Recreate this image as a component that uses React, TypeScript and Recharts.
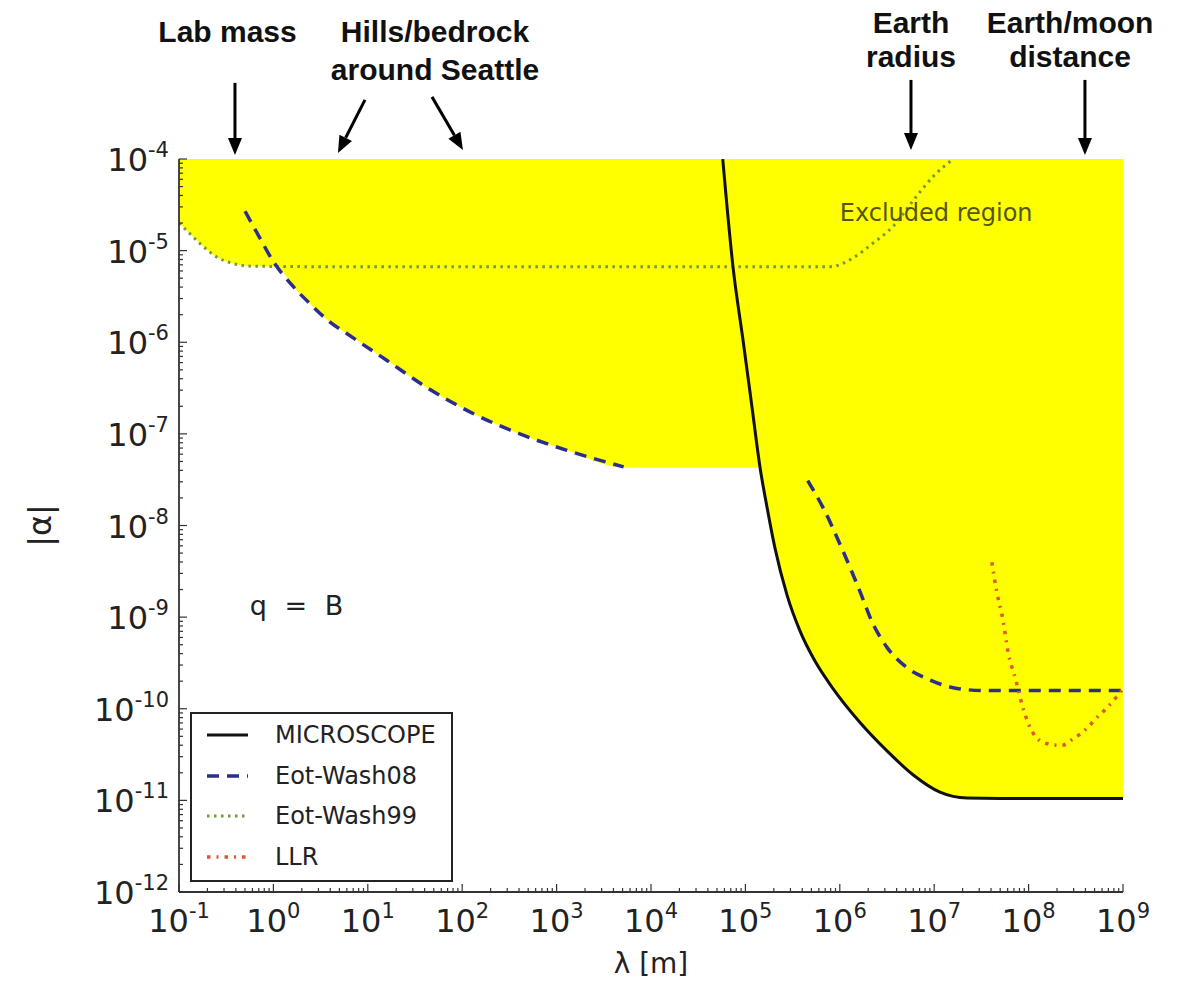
import React from 'react';
import {
  ComposedChart,
  Line,
  Area,
  XAxis,
  YAxis,
  Legend,
  ReferenceLine,
  ReferenceDot,
} from 'recharts';

// every value is a log10: lam = log10(λ / m), alpha = log10 |α|
const microscopeLam = [4.76, 4.869, 4.975, 5.07, 5.155, 5.229, 5.314, 5.441, 5.578, 5.737, 5.928, 6.214, 6.5, 6.775, 7.061, 7.347, 7.7, 9.0];
const microscopeAlpha = [-4.0, -5.18, -5.978, -6.71, -7.366, -7.8, -8.25, -8.76, -9.15, -9.48, -9.78, -10.15, -10.46, -10.72, -10.91, -10.975, -10.98, -10.98];

const eotWash08LabLam = [-0.3, -0.15, 0.0, 0.2, 0.388, 0.6, 0.777, 1.2, 1.62, 2.12, 2.61, 3.11, 3.71];
const eotWash08LabAlpha = [-4.57, -4.85, -5.12, -5.38, -5.58, -5.78, -5.905, -6.197, -6.49, -6.78, -7.0, -7.18, -7.36];

const eotWash08GeoLam = [5.66, 5.82, 6.03, 6.21, 6.35, 6.5, 6.71, 6.92, 7.2, 7.5, 9.0];
const eotWash08GeoAlpha = [-7.51, -7.8, -8.27, -8.71, -9.07, -9.33, -9.55, -9.67, -9.77, -9.8, -9.8];

const eotWash99Lam = [-1.0, -0.9, -0.78, -0.6, -0.43, -0.22, 0.5, 5.9, 6.14, 6.35, 6.56, 6.78, 6.99, 7.2];
const eotWash99Alpha = [-4.7, -4.8, -4.92, -5.07, -5.14, -5.17, -5.175, -5.175, -5.08, -4.92, -4.74, -4.45, -4.19, -4.0];

const llrLam = [7.61, 7.66, 7.73, 7.78, 7.86, 7.94, 8.05, 8.19, 8.35, 8.47, 8.62, 8.72, 8.83, 8.94, 9.0];
const llrAlpha = [-8.4, -8.71, -9.04, -9.37, -9.67, -9.99, -10.27, -10.38, -10.4, -10.33, -10.21, -10.1, -9.99, -9.86, -9.78];

// lower edge of the yellow excluded region
const excludedLam = [-1.0, -0.9, -0.78, -0.6, -0.43, -0.22, 0.042, 0.2, 0.388, 0.6, 0.777, 1.2, 1.62, 2.12, 2.61, 3.11, 3.71, 5.155, 5.229, 5.314, 5.441, 5.578, 5.737, 5.928, 6.214, 6.5, 6.775, 7.061, 7.347, 7.7, 9.0];
const excludedAlpha = [-4.7, -4.8, -4.92, -5.07, -5.14, -5.17, -5.175, -5.38, -5.58, -5.78, -5.905, -6.197, -6.49, -6.78, -7.0, -7.18, -7.37, -7.37, -7.8, -8.25, -8.76, -9.15, -9.48, -9.78, -10.15, -10.46, -10.72, -10.91, -10.975, -10.98, -10.98];

const decadesX = [-1, 0, 1, 2, 3, 4, 5, 6, 7, 8, 9];
const decadesY = [-12, -11, -10, -9, -8, -7, -6, -5, -4];
const minorSteps = [2, 3, 4, 5, 6, 7, 8, 9];

const annotationLabels = [
  { lines: ['Lab mass'], lam: -0.486, alpha: -2.721, gap: 38 },
  { lines: ['Hills/bedrock', 'around Seattle'], lam: 1.712, alpha: -2.721, gap: 38 },
  { lines: ['Earth', 'radius'], lam: 6.754, alpha: -2.623, gap: 34 },
  { lines: ['Earth/moon', 'distance'], lam: 8.439, alpha: -2.623, gap: 34 },
];

const annotationArrows = [
  { from: [-0.407, -3.169], to: [-0.407, -3.956] },
  { from: [0.97, -3.355], to: [0.684, -3.934] },
  { from: [1.68, -3.322], to: [2.008, -3.902] },
  { from: [6.754, -3.137], to: [6.754, -3.902] },
  { from: [8.597, -3.137], to: [8.597, -3.956] },
];

const toPoints = (lam: number[], alpha: number[]) => lam.map((x, i) => ({ x, y: alpha[i] }));

const withMinors = (decades: number[]) =>
  decades.flatMap((d, i) =>
    i < decades.length - 1 ? [d, ...minorSteps.map(k => d + Math.log10(k))] : [d]
  );

const xTicks = withMinors(decadesX);
const yTicks = withMinors(decadesY);

const series = [
  { name: 'MICROSCOPE', color: '#111111', width: 3, dash: undefined as string | undefined },
  { name: 'Eot-Wash08', color: '#2d2d8c', width: 3.5, dash: '12 8' },
  { name: 'Eot-Wash99', color: '#74983a', width: 3, dash: '2.5 4.5' },
  { name: 'LLR', color: '#dc5a2c', width: 3.5, dash: '3.5 6 2 6' },
];

const AXIS = '#333333';
const FONT = "'DejaVu Sans', sans-serif";
const isMajor = (v: number) => Math.abs(v - Math.round(v)) < 1e-6;

function BottomTick({ x, y, payload }: any) {
  const major = isMajor(payload.value);
  return (
    <g>
      <line x1={x} x2={x} y1={y} y2={y - (major ? 8 : 4)} stroke={AXIS} strokeWidth={1.2} />
      {major && (
        <text x={x} y={y + 40} textAnchor="middle" fontSize={32} fill="#222" fontFamily={FONT}>
          10<tspan fontSize={21} dy={-14}>{Math.round(payload.value)}</tspan>
        </text>
      )}
    </g>
  );
}

function LeftTick({ x, y, payload }: any) {
  const major = isMajor(payload.value);
  return (
    <g>
      <line x1={x} x2={x + (major ? 8 : 4)} y1={y} y2={y} stroke={AXIS} strokeWidth={1.2} />
      {major && (
        <text x={x - 10} y={y + 12} textAnchor="end" fontSize={32} fill="#222" fontFamily={FONT}>
          10<tspan fontSize={21} dy={-14}>{Math.round(payload.value)}</tspan>
        </text>
      )}
    </g>
  );
}

function TopTick({ x, y, payload }: any) {
  const major = isMajor(payload.value);
  return <line x1={x} x2={x} y1={y} y2={y + (major ? 8 : 4)} stroke={AXIS} strokeWidth={1.2} />;
}

function RightTick({ x, y, payload }: any) {
  const major = isMajor(payload.value);
  return <line x1={x} x2={x - (major ? 8 : 4)} y1={y} y2={y} stroke={AXIS} strokeWidth={1.2} />;
}

function Arrow({ x1, y1, x2, y2 }: any) {
  const dx = x2 - x1;
  const dy = y2 - y1;
  const len = Math.sqrt(dx * dx + dy * dy);
  const ux = dx / len;
  const uy = dy / len;
  const head = 17;
  const half = 7;
  const bx = x2 - ux * head;
  const by = y2 - uy * head;
  return (
    <g>
      <line x1={x1} y1={y1} x2={bx} y2={by} stroke="#000" strokeWidth={3} />
      <polygon
        points={`${x2},${y2} ${bx - uy * half},${by + ux * half} ${bx + uy * half},${by - ux * half}`}
        fill="#000"
      />
    </g>
  );
}

function NoteText({ cx, cy, lines, gap }: any) {
  return (
    <text
      x={cx}
      y={cy}
      textAnchor="middle"
      fontFamily="'Liberation Sans', Arial, sans-serif"
      fontWeight="bold"
      fontSize={30}
      fill="#111"
    >
      {lines.map((l: string, i: number) => (
        <tspan key={l} x={cx} dy={i === 0 ? 0 : gap}>
          {l}
        </tspan>
      ))}
    </text>
  );
}

function LegendBox() {
  return (
    <div
      style={{
        width: 263,
        height: 170,
        boxSizing: 'border-box',
        border: '2px solid #222',
        background: '#fff',
        paddingTop: 1,
        fontFamily: FONT,
      }}
    >
      {series.map(s => (
        <div key={s.name} style={{ display: 'flex', alignItems: 'center', height: 40.5 }}>
          <svg width={83} height={12}>
            <line x1={15} x2={56} y1={6} y2={6} stroke={s.color} strokeWidth={s.width} strokeDasharray={s.dash} />
          </svg>
          <span style={{ fontSize: 24, color: '#222', lineHeight: 1 }}>{s.name}</span>
        </div>
      ))}
    </div>
  );
}

export default function App() {
  const frame = { stroke: AXIS, strokeWidth: 1.8 };
  const [mic, w08, w99, llr] = series;

  return (
    <div style={{ position: 'absolute', left: 0, top: 0, width: 1183, height: 991, background: '#fff', fontFamily: FONT }}>
      <ComposedChart width={1183} height={991} margin={{ top: 159, right: 60, bottom: 39, left: 59 }}>
        <XAxis
          dataKey="x"
          type="number"
          domain={[-1, 9]}
          ticks={xTicks}
          interval={0}
          allowDataOverflow
          height={60}
          tickSize={0}
          tickMargin={0}
          tickLine={false}
          axisLine={frame}
          tick={<BottomTick />}
          label={{ value: 'λ [m]', position: 'bottom', offset: 1, fontSize: 28, fill: '#222' }}
        />
        <XAxis
          xAxisId="top"
          orientation="top"
          type="number"
          domain={[-1, 9]}
          ticks={xTicks}
          interval={0}
          allowDataOverflow
          height={0}
          tickSize={0}
          tickMargin={0}
          tickLine={false}
          axisLine={frame}
          tick={<TopTick />}
        />
        <YAxis
          type="number"
          domain={[-12, -4]}
          ticks={yTicks}
          interval={0}
          allowDataOverflow
          width={120}
          tickSize={0}
          tickMargin={0}
          tickLine={false}
          axisLine={frame}
          tick={<LeftTick />}
          label={{ value: '|α|', angle: -90, position: 'left', offset: 19, fontSize: 32, fill: '#222', style: { textAnchor: 'middle' } }}
        />
        <YAxis
          yAxisId="right"
          orientation="right"
          type="number"
          domain={[-12, -4]}
          ticks={yTicks}
          interval={0}
          allowDataOverflow
          width={0}
          tickSize={0}
          tickMargin={0}
          tickLine={false}
          axisLine={frame}
          tick={<RightTick />}
        />

        <Area
          data={toPoints(excludedLam, excludedAlpha)}
          dataKey="y"
          type="monotone"
          baseValue={-4}
          fill="#ffff00"
          fillOpacity={1}
          stroke="none"
          legendType="none"
          isAnimationActive={false}
        />

        <Line data={toPoints(eotWash99Lam, eotWash99Alpha)} dataKey="y" name={w99.name} type="monotone" stroke={w99.color} strokeWidth={w99.width} strokeDasharray={w99.dash} dot={false} isAnimationActive={false} />
        <Line data={toPoints(eotWash08LabLam, eotWash08LabAlpha)} dataKey="y" name={w08.name} type="monotone" stroke={w08.color} strokeWidth={w08.width} strokeDasharray={w08.dash} dot={false} isAnimationActive={false} />
        <Line data={toPoints(eotWash08GeoLam, eotWash08GeoAlpha)} dataKey="y" name={`${w08.name} geo`} legendType="none" type="monotone" stroke={w08.color} strokeWidth={w08.width} strokeDasharray={w08.dash} dot={false} isAnimationActive={false} />
        <Line data={toPoints(llrLam, llrAlpha)} dataKey="y" name={llr.name} type="monotone" stroke={llr.color} strokeWidth={llr.width} strokeDasharray={llr.dash} dot={false} isAnimationActive={false} />
        <Line data={toPoints(microscopeLam, microscopeAlpha)} dataKey="y" name={mic.name} type="monotone" stroke={mic.color} strokeWidth={mic.width} dot={false} isAnimationActive={false} />

        <ReferenceDot
          x={6.0}
          y={-4.59}
          r={0}
          ifOverflow="visible"
          shape={(p: any) => (
            <text x={p.cx} y={p.cy} dominantBaseline="central" fontSize={24} fill="#55551a" fontFamily={FONT}>
              Excluded region
            </text>
          )}
        />
        <ReferenceDot
          x={-0.25}
          y={-8.87}
          r={0}
          ifOverflow="visible"
          shape={(p: any) => (
            <text x={p.cx} y={p.cy} dominantBaseline="central" fontSize={27} wordSpacing={9} fill="#222" fontFamily={FONT}>
              q = B
            </text>
          )}
        />

        {annotationLabels.map(a => (
          <ReferenceDot
            key={a.lines[0]}
            x={a.lam}
            y={a.alpha}
            r={0}
            ifOverflow="visible"
            shape={(p: any) => <NoteText cx={p.cx} cy={p.cy} lines={a.lines} gap={a.gap} />}
          />
        ))}
        {annotationArrows.map((a, i) => (
          <ReferenceLine
            key={i}
            segment={[
              { x: a.from[0], y: a.from[1] },
              { x: a.to[0], y: a.to[1] },
            ]}
            ifOverflow="visible"
            shape={(p: any) => <Arrow {...p} />}
          />
        ))}

        <Legend
          layout="vertical"
          align="center"
          verticalAlign="middle"
          content={() => <LegendBox />}
          wrapperStyle={{ left: 190, top: 712, width: 263, height: 170 }}
        />
      </ComposedChart>
    </div>
  );
}
